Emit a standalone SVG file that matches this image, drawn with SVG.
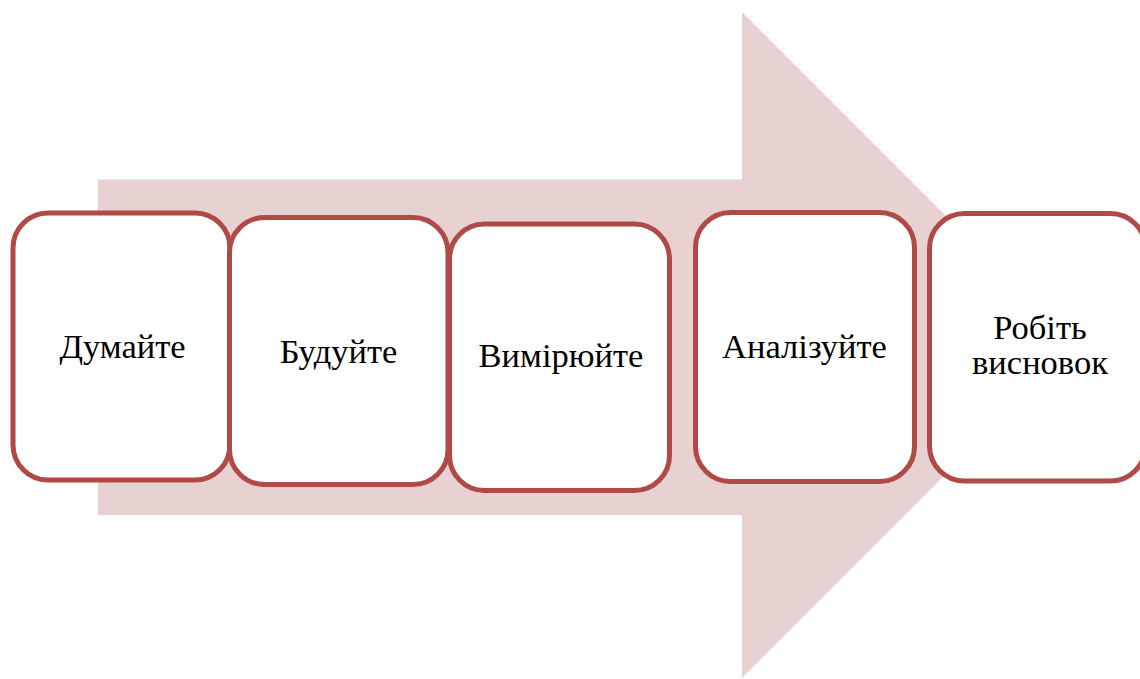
<svg xmlns="http://www.w3.org/2000/svg" width="1140" height="679" viewBox="0 0 1140 679">
<style>
.box{fill:#ffffff;stroke:#B04A47;stroke-width:5}
.lbl{font-family:"Liberation Serif","Times New Roman",serif;font-size:34.5px;fill:#000000;text-anchor:middle}
</style>
<rect width="1140" height="679" fill="#ffffff"/>
<g id="arrow">
<polygon points="98,179.5 742,179.5 742,12 1075,345 742,678 742,515 98,515" fill="#E8D1D1"/>
</g>
<g id="connectors"></g>
<g id="node1">
<rect class="box" x="13" y="213" width="217" height="267" rx="35" ry="35"/>
<text class="lbl" x="122.5" y="357.5">Думайте</text>
</g>
<g id="node2">
<rect class="box" x="229.5" y="217.5" width="218.5" height="267" rx="35" ry="35"/>
<text class="lbl" x="338.5" y="362.5">Будуйте</text>
</g>
<g id="node3">
<rect class="box" x="449.5" y="224" width="220" height="266.5" rx="35" ry="35"/>
<text class="lbl" x="561" y="366.5">Вимірюйте</text>
</g>
<g id="node4">
<rect class="box" x="695.5" y="212.5" width="219" height="269" rx="35" ry="35"/>
<text class="lbl" x="804.5" y="357.5">Аналізуйте</text>
</g>
<g id="node5">
<rect class="box" x="929.5" y="213.5" width="216" height="267.5" rx="35" ry="35"/>
<text class="lbl" x="1040" y="338.5">Робіть</text>
<text class="lbl" x="1040" y="373.5">висновок</text>
</g>
</svg>
